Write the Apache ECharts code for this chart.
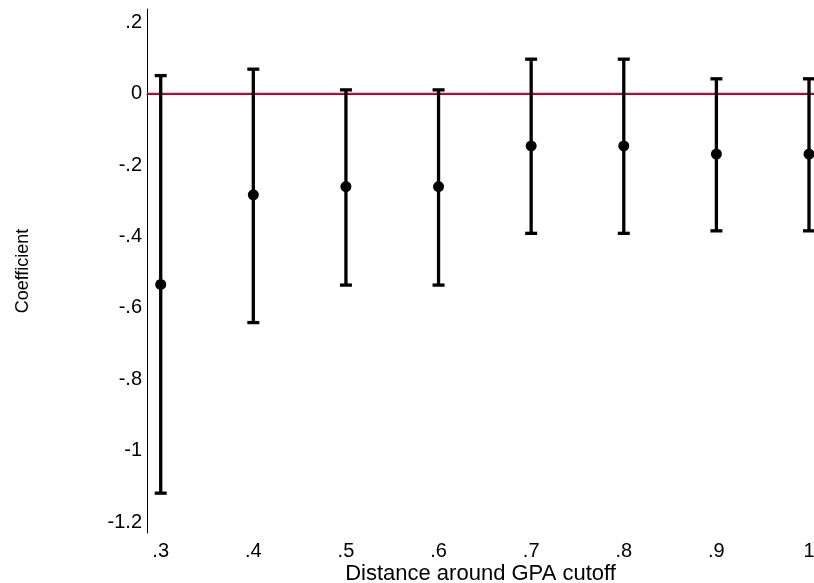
<!DOCTYPE html>
<html><head><meta charset="utf-8">
<script src="https://cdn.jsdelivr.net/npm/echarts@6/dist/echarts.min.js"></script>
<style>html,body{margin:0;padding:0;background:#fff;overflow:hidden}#c{width:814px;height:583px}</style>
</head><body><div id="c"></div>
<script>
var distances = [0.3, 0.4, 0.5, 0.6, 0.7, 0.8, 0.9, 1.0];
var coefs =     [-0.534, -0.283, -0.260, -0.260, -0.146, -0.146, -0.169, -0.169];
var upper =     [0.051, 0.069, 0.011, 0.011, 0.097, 0.097, 0.042, 0.042];
var lower =     [-1.119, -0.641, -0.536, -0.536, -0.391, -0.391, -0.384, -0.384];
var xTicks = [0.3, 0.4, 0.5, 0.6, 0.7, 0.8, 0.9, 1.0];
var xTickLabels = ['.3', '.4', '.5', '.6', '.7', '.8', '.9', '1'];
var yTicks = [-1.2, -1.0, -0.8, -0.6, -0.4, -0.2, 0, 0.2];
var yTickLabels = ['-1.2', '-1', '-.8', '-.6', '-.4', '-.2', '0', '.2'];

var font = 'Liberation Sans, Arial, sans-serif';
function lab(ticks, labels) {
  return function (v) {
    for (var i = 0; i < ticks.length; i++) if (Math.abs(ticks[i] - v) < 1e-6) return labels[i];
    return '';
  };
}
var errData = distances.map(function (d, i) { return [d, lower[i], upper[i]]; });
var ptData = distances.map(function (d, i) { return [d, coefs[i]]; });

var chart = echarts.init(document.getElementById('c'));
chart.setOption({
  animation: false,
  backgroundColor: '#fff',
  grid: { left: 147, right: 0, top: 9, bottom: 50, containLabel: false, outerBoundsMode: 'none' },
  xAxis: {
    type: 'value', min: 0.2852, max: 1.0054,
    name: 'Distance around GPA cutoff', nameLocation: 'middle', nameGap: 30, nameMoveOverlap: false,
    nameTextStyle: { fontFamily: font, fontSize: 22, color: '#000', lineHeight: 22 },
    axisLine: { show: true, lineStyle: { color: '#000', width: 1 } },
    axisTick: { show: false, customValues: xTicks },
    splitLine: { show: false },
    axisLabel: { customValues: xTicks, formatter: lab(xTicks, xTickLabels), fontFamily: font, fontSize: 20, color: '#000', margin: 8 }
  },
  yAxis: {
    type: 'value', min: -1.2306, max: 0.2376,
    name: 'Coefficient', nameLocation: 'middle', nameGap: 115, nameRotate: 90, nameMoveOverlap: false,
    nameTextStyle: { fontFamily: font, fontSize: 18, color: '#000' },
    axisLine: { show: true, lineStyle: { color: '#000', width: 1 } },
    axisTick: { show: false, customValues: yTicks },
    splitLine: { show: false },
    axisLabel: { customValues: yTicks, formatter: lab(yTicks, yTickLabels), fontFamily: font, fontSize: 20, color: '#000', margin: 5 }
  },
  series: [
    {
      type: 'line', data: [[0.2852, 0], [1.0054, 0]], symbol: 'none', silent: true,
      lineStyle: { color: '#c8103e', width: 2 }, z: 1
    },
    {
      type: 'custom', data: errData, z: 2, clip: false,
      renderItem: function (params, api) {
        var x = api.value(0);
        var lo = api.coord([x, api.value(1)]);
        var hi = api.coord([x, api.value(2)]);
        var hw = 6;
        var st = { stroke: '#000', lineWidth: 3.3 };
        return {
          type: 'group', children: [
            { type: 'line', shape: { x1: lo[0], y1: lo[1], x2: hi[0], y2: hi[1] }, style: st },
            { type: 'line', shape: { x1: lo[0] - hw, y1: lo[1], x2: lo[0] + hw, y2: lo[1] }, style: st },
            { type: 'line', shape: { x1: hi[0] - hw, y1: hi[1], x2: hi[0] + hw, y2: hi[1] }, style: st }
          ]
        };
      }
    },
    {
      type: 'scatter', data: ptData, symbol: 'circle', symbolSize: 11, z: 3, clip: false,
      itemStyle: { color: '#000', opacity: 1 }
    }
  ]
});
</script></body></html>
